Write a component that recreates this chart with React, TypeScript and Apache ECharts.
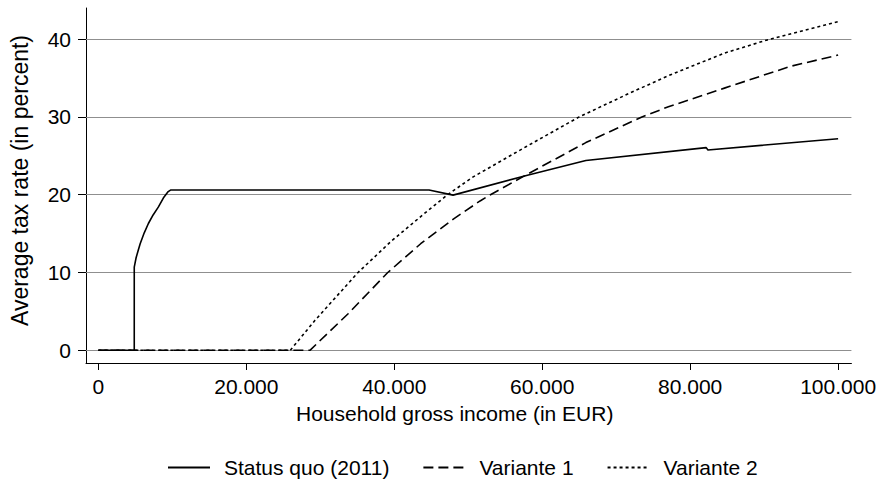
import React, { useEffect, useRef } from "react";
import * as echarts from "echarts";

const seriesNames = ["Status quo (2011)", "Variante 1", "Variante 2"];

const statusQuo: [number, number][] = [
  [0, 0], [4850, 0], [4850, 10.7], [5100, 11.9], [5400, 12.9], [5650, 13.7],
  [6200, 15.1], [6760, 16.3], [7400, 17.4], [8100, 18.4], [8800, 19.6],
  [9440, 20.4], [9750, 20.6], [44700, 20.6], [47950, 19.95], [58000, 22.5],
  [65900, 24.4], [82170, 26.05], [82400, 25.75], [100000, 27.2],
];

const variante1: [number, number][] = [
  [0, 0], [28600, 0], [33760, 4.7], [39120, 10.0], [43570, 13.7], [48030, 16.9],
  [51600, 19.2], [53000, 20.0], [58300, 22.8], [65900, 26.7], [73470, 30.0],
  [77050, 31.3], [84630, 33.7], [93550, 36.5], [100000, 37.95],
];

const variante2: [number, number][] = [
  [0, 0], [25940, 0], [29290, 3.86], [35100, 10.0], [39560, 14.0], [44470, 17.9],
  [47150, 19.95], [50500, 22.2], [57860, 26.2], [65000, 30.0], [71690, 33.0],
  [77050, 35.3], [84630, 38.2], [90430, 39.9], [100000, 42.25],
];

const xTicks = [0, 20000, 40000, 60000, 80000, 100000];
const yTicks = [0, 10, 20, 30, 40];

const xTitle = "Household gross income (in EUR)";
const yTitle = "Average tax rate (in percent)";

const FONT = "'Liberation Sans', Arial, sans-serif";

function fmtThousands(v: number): string {
  return String(Math.round(v)).replace(/\B(?=(\d{3})+(?!\d))/g, ".");
}

export default function App() {
  const ref = useRef<HTMLDivElement>(null);

  useEffect(() => {
    if (!ref.current) return;
    const chart = echarts.init(ref.current, null, { renderer: "svg" });
    const lineCommon = {
      type: "line" as const,
      symbol: "none",
      showSymbol: false,
      smooth: false,
      z: 3,
    };
    chart.setOption({
      animation: false,
      backgroundColor: "#ffffff",
      textStyle: { fontFamily: FONT, color: "#000" },
      grid: { left: 82, right: 24, top: 8, bottom: 116, containLabel: false },
      legend: {
        left: 162,
        top: 452,
        itemWidth: 42,
        itemHeight: 20,
        itemGap: 33,
        itemStyle: { color: "rgba(0,0,0,0)", borderWidth: 0 },
        textStyle: { fontFamily: FONT, fontSize: 21, color: "#000", padding: [0, 0, 0, 9] },
        data: seriesNames,
      },
      xAxis: {
        type: "value",
        min: -1673,
        max: 101800,
        name: xTitle,
        nameLocation: "middle",
        nameGap: 40,
        nameTextStyle: {
          fontFamily: FONT,
          fontSize: 21,
          color: "#000",
          verticalAlign: "top",
          padding: [0, 28, 0, 0],
        },
        axisLine: { show: true, onZero: false, lineStyle: { color: "#000", width: 1 } },
        axisTick: { show: true, length: 7, customValues: xTicks, lineStyle: { color: "#000" } },
        axisLabel: {
          customValues: xTicks,
          fontFamily: FONT,
          fontSize: 21,
          color: "#000",
          margin: 13,
          formatter: (v: number) => fmtThousands(v),
        },
        splitLine: { show: false },
      },
      yAxis: {
        type: "value",
        min: -1.63,
        max: 44,
        name: yTitle,
        nameLocation: "middle",
        nameGap: 55,
        nameRotate: 90,
        nameTextStyle: {
          fontFamily: FONT,
          fontSize: 23,
          color: "#000",
          padding: [0, 0, 0, 10],
        },
        axisLine: { show: true, onZero: false, lineStyle: { color: "#000", width: 1 } },
        axisTick: { show: true, length: 8, customValues: yTicks, lineStyle: { color: "#000" } },
        axisLabel: {
          customValues: yTicks,
          fontFamily: FONT,
          fontSize: 21,
          color: "#000",
          margin: 15,
        },
        splitLine: { show: false },
      },
      series: [
        {
          ...lineCommon,
          name: seriesNames[0],
          data: statusQuo,
          lineStyle: { color: "#000", width: 1.6, type: "solid" },
          itemStyle: { color: "#000" },
          markLine: {
            silent: true,
            symbol: ["none", "none"],
            z: 1,
            label: { show: false },
            lineStyle: { color: "#8f8f8f", width: 1, type: "solid" },
            data: yTicks.map((v) => ({ yAxis: v })),
          },
        },
        {
          ...lineCommon,
          name: seriesNames[1],
          data: variante1,
          lineStyle: { color: "#000", width: 1.6, type: [10, 5] },
          itemStyle: { color: "#000" },
        },
        {
          ...lineCommon,
          name: seriesNames[2],
          data: variante2,
          lineStyle: { color: "#000", width: 1.6, type: [3, 3] },
          itemStyle: { color: "#000" },
        },
      ],
    });
    return () => chart.dispose();
  }, []);

  return (
    <div
      ref={ref}
      style={{ position: "absolute", left: 0, top: 0, width: 879, height: 479 }}
    />
  );
}
